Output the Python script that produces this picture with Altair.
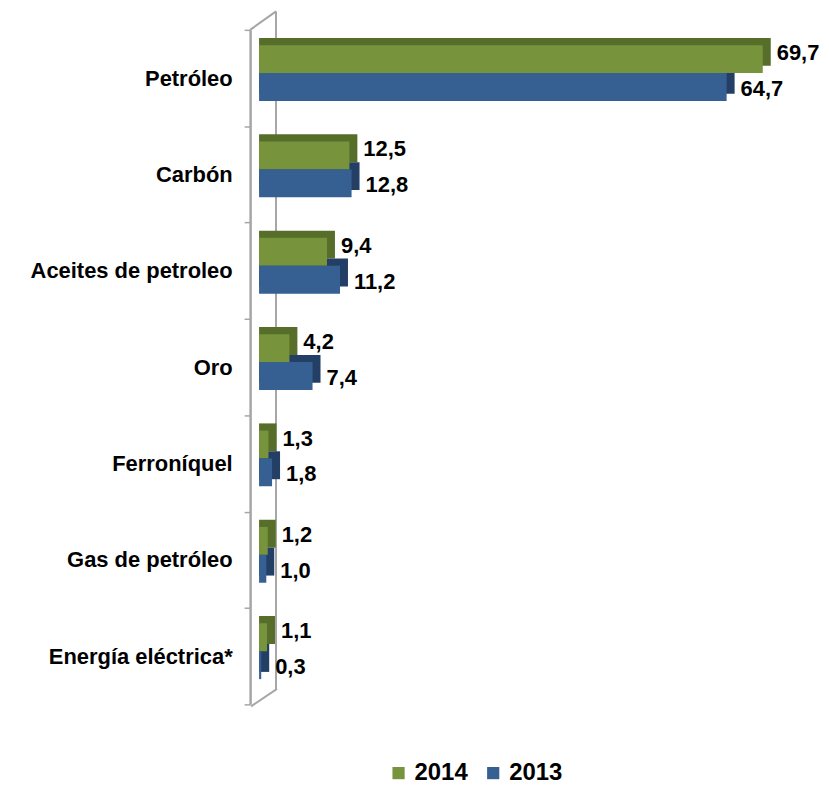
import altair as alt
import pandas as pd

categories = ["Petróleo", "Carbón", "Aceites de petroleo", "Oro",
              "Ferroníquel", "Gas de petróleo", "Energía eléctrica*"]
values_2014 = [69.7, 12.5, 9.4, 4.2, 1.3, 1.2, 1.1]
values_2013 = [64.7, 12.8, 11.2, 7.4, 1.8, 1.0, 0.3]
years = ["2014", "2013"]

rows = []
for c, a, b in zip(categories, values_2014, values_2013):
    rows.append({"cat": c, "year": "2014", "value": a})
    rows.append({"cat": c, "year": "2013", "value": b})
df = pd.DataFrame(rows)
df["label"] = df["value"].map(lambda v: f"{v:.1f}".replace(".", ","))

FONT = "Liberation Sans"
GREEN, BLUE = "#77933C", "#376092"
DGREEN, DBLUE = "#566E2A", "#243F66"
GREY = "#A6A6A6"
W, H = 553, 677

x_scale = alt.Scale(domain=[-1.24, 75], zero=False, nice=False)
y_scale = alt.Scale(domain=categories, paddingInner=0, paddingOuter=0)

y_axis = alt.Axis(title=None, tickBand="extent", labelFont=FONT, labelFontSize=22,
                  labelFontWeight="bold", labelColor="black", labelPadding=12,
                  tickSize=6, tickColor=GREY, tickWidth=1.5, domainColor=GREY,
                  domainWidth=2.5, labelLimit=300)

y_enc = alt.Y("cat:N", scale=y_scale, axis=y_axis, sort=categories)
x_enc = alt.X("value:Q", scale=x_scale, axis=None)

base = alt.Chart(df)

one = alt.Data(values=[{"a": 1}])
wall_back = alt.Chart(one).mark_rule(color=GREY, strokeWidth=2).encode(
    x=alt.value(26), y=alt.value(-18.5), y2=alt.value(661.5))
wall_top = alt.Chart(one).mark_rule(color=GREY, strokeWidth=2).encode(
    x=alt.value(0), x2=alt.value(26), y=alt.value(0), y2=alt.value(-18.5))
wall_bot = alt.Chart(one).mark_rule(color=GREY, strokeWidth=2).encode(
    x=alt.value(1), x2=alt.value(27), y=alt.value(679), y2=alt.value(661.5))

# back (depth) faces: shifted up and extended to the right
back = base.mark_bar(xOffset=8).encode(
    x=x_enc, x2=alt.datum(0), y=y_enc,
    yOffset=alt.YOffset("year:N", sort=years,
                        scale=alt.Scale(domain=years, paddingInner=0,
                                        paddingOuter=0.727, align=0.2)),
    color=alt.condition(alt.datum.year == "2014", alt.value(DGREEN), alt.value(DBLUE)),
)

front = base.mark_bar().encode(
    x=x_enc, x2=alt.datum(0), y=y_enc,
    yOffset=alt.YOffset("year:N", sort=years,
                        scale=alt.Scale(domain=years, paddingInner=0,
                                        paddingOuter=0.727, align=0.377)),
    color=alt.Color("year:N", scale=alt.Scale(domain=years, range=[GREEN, BLUE]),
                    legend=alt.Legend(orient="none", legendX=137, legendY=734,
                                      direction="horizontal", title=None,
                                      symbolType="square", symbolSize=150,
                                      symbolStrokeWidth=0, labelFont=FONT,
                                      labelFontSize=24, labelFontWeight="bold",
                                      labelColor="black", columnPadding=13,
                                      labelOffset=4)),
)

text_kw = dict(align="left", baseline="middle", dx=14, font=FONT, fontSize=22,
               fontWeight="bold", color="black")
t14 = base.transform_filter(alt.datum.year == "2014").mark_text(dy=-25, **text_kw).encode(
    x=x_enc, y=y_enc, text="label:N")
t13 = base.transform_filter(alt.datum.year == "2013").mark_text(dy=11, **text_kw).encode(
    x=x_enc, y=y_enc, text="label:N")

chart = alt.layer(wall_back, wall_top, wall_bot, back, front, t14, t13).resolve_scale(
    yOffset="independent"
).properties(
    width=W, height=H,
    autosize=alt.AutoSizeParams(type="none"),
    padding={"left": 243, "top": 20.5, "right": 20, "bottom": 79},
).configure_view(stroke=None)

chart.save("out.html", embed_options={"renderer": "svg", "actions": False})
